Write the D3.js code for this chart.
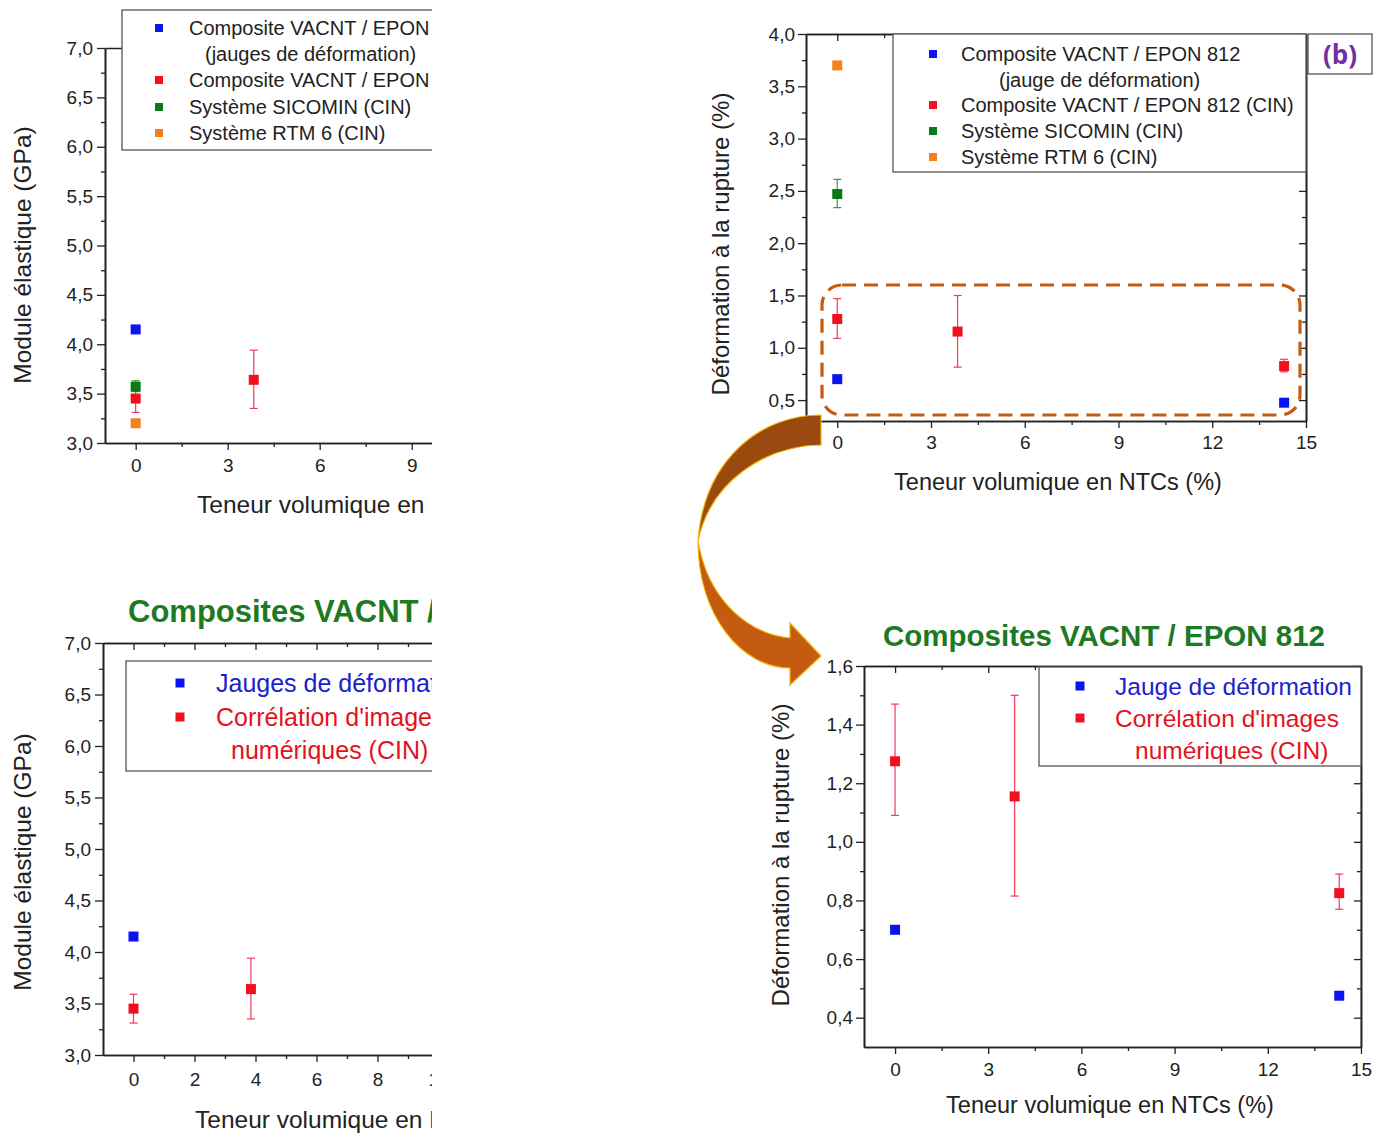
<!DOCTYPE html>
<html><head><meta charset="utf-8">
<script src="https://cdn.jsdelivr.net/npm/d3@7"></script>
<style>
html,body{margin:0;padding:0;background:#fff;}
svg{display:block;font-family:"Liberation Sans",Arial,sans-serif;}
</style></head>
<body><svg id="c" width="1386" height="1135"></svg>
<script>
// ---------------- DATA ----------------
const xTicksStep3 = [0, 3, 6, 9, 12, 15];
const xTicksStep2 = [0, 2, 4, 6, 8, 10, 12, 14];
// Elastic modulus (GPa)
const modGaugeX = [0];
const modGaugeY = [4.15];
const modCinX = [0, 3.85];
const modCinY = [3.45, 3.64];
const modCinLo = [3.31, 3.35];
const modCinHi = [3.59, 3.94];
const modSicominX = [0];
const modSicominY = [3.57];
const modSicominLo = [3.52];
const modSicominHi = [3.63];
const modRtmX = [0];
const modRtmY = [3.20];
// Strain at break (%)
const strGaugeX = [0, 14.3];
const strGaugeY = [0.70, 0.475];
const strCinX = [0, 3.85, 14.3];
const strCinY = [1.275, 1.155, 0.825];
const strCinLo = [1.09, 0.815, 0.77];
const strCinHi = [1.47, 1.50, 0.89];
const strSicominX = [0];
const strSicominY = [2.47];
const strSicominLo = [2.34];
const strSicominHi = [2.61];
const strRtmX = [0];
const strRtmY = [3.70];

const legendTopLeft = ["Composite VACNT / EPON 812", "(jauges de déformation)", "Composite VACNT / EPON 812 (CIN)", "Système SICOMIN (CIN)", "Système RTM 6 (CIN)"];
const legendTopRight = ["Composite VACNT / EPON 812", "(jauge de déformation)", "Composite VACNT / EPON 812 (CIN)", "Système SICOMIN (CIN)", "Système RTM 6 (CIN)"];
const legendBottomLeft = ["Jauges de déformation", "Corrélation d'images", "numériques (CIN)"];
const legendBottomRight = ["Jauge de déformation", "Corrélation d'images", "numériques (CIN)"];
const title = "Composites VACNT / EPON 812";
const xTitle = "Teneur volumique en NTCs (%)";
const yTitleMod = "Module élastique (GPa)";
const yTitleStr = "Déformation à la rupture (%)";

// ---------------- STYLE ----------------
const C = {blue:"#0a14f0", red:"#f01020", green:"#0a7a16", orange:"#f7801e", err:"#f03a5a",
           axis:"#222", txtBlue:"#1a22cc", txtRed:"#e3121c", title:"#1d7a22", brown:"#c55a11"};
const svg = d3.select("#c");
const defs = svg.append("defs");
defs.append("clipPath").attr("id","clipL").append("rect").attr("x",0).attr("y",0).attr("width",432).attr("height",1135);

const fmt1 = d => d3.format(".1f")(d).replace(".", ",");

function panel(cfg){
  const g = svg.append("g").attr("clip-path", cfg.clip ? "url(#"+cfg.clip+")" : null);
  const x = d3.scaleLinear().domain(cfg.xDom).range([cfg.left, cfg.left + cfg.pxPerX*(cfg.xDom[1]-cfg.xDom[0])]);
  const y = d3.scaleLinear().domain(cfg.yDom).range([cfg.bottom, cfg.top]);
  const right = x.range()[1];
  const styleAxis = sel => {
    sel.selectAll("path.domain").attr("stroke", C.axis).attr("stroke-width", 1.6);
    sel.selectAll(".tick line").attr("stroke", C.axis).attr("stroke-width", 1.3);
    sel.selectAll(".tick text").attr("fill", "#222").style("font-size", cfg.tickFont+"px").style("font-family", "Liberation Sans, Arial");
  };
  if (cfg.topAxis){
    g.append("g").attr("transform","translate(0,"+cfg.top+")")
      .call(d3.axisBottom(x).tickValues(cfg.topTicks).tickSize(7).tickSizeOuter(0).tickFormat(""))
      .call(styleAxis);
    if (cfg.topMinor) g.append("g").attr("transform","translate(0,"+cfg.top+")")
      .call(d3.axisBottom(x).tickValues(cfg.topMinor).tickSize(4).tickSizeOuter(0).tickFormat(""))
      .call(styleAxis);
  }
  if (cfg.rightAxis){
    g.append("g").attr("transform","translate("+right+",0)")
      .call(d3.axisLeft(y).tickValues(cfg.yMajor).tickSize(7).tickSizeOuter(0).tickFormat(""))
      .call(styleAxis);
    g.append("g").attr("transform","translate("+right+",0)")
      .call(d3.axisLeft(y).tickValues(cfg.yMinor).tickSize(4).tickSizeOuter(0).tickFormat(""))
      .call(styleAxis);
  }
  g.append("g").attr("transform","translate("+cfg.left+",0)")
    .call(d3.axisLeft(y).tickValues(cfg.yMinor).tickSize(4).tickSizeOuter(0).tickFormat(""))
    .call(styleAxis);
  g.append("g").attr("transform","translate("+cfg.left+",0)")
    .call(d3.axisLeft(y).tickValues(cfg.yMajor).tickSize(8).tickPadding(cfg.yPad).tickSizeOuter(0).tickFormat(fmt1))
    .call(styleAxis);
  g.append("g").attr("transform","translate(0,"+cfg.bottom+")")
    .call(d3.axisBottom(x).tickValues(cfg.xMinor).tickSize(4).tickSizeOuter(0).tickFormat(""))
    .call(styleAxis);
  g.append("g").attr("transform","translate(0,"+cfg.bottom+")")
    .call(d3.axisBottom(x).tickValues(cfg.xMajor).tickSize(7).tickPadding(cfg.xPad).tickSizeOuter(0).tickFormat(d3.format("d")))
    .call(styleAxis);
  g.append("text").attr("x", cfg.xTitleX).attr("y", cfg.xTitleY).attr("text-anchor", cfg.xTitleAnchor || "middle")
    .style("font-size", cfg.xTitleFont+"px").attr("fill","#222").text(xTitle);
  g.append("text").attr("transform","translate("+cfg.yTitleX+","+cfg.yTitleY+") rotate(-90)")
    .attr("text-anchor","middle").style("font-size", cfg.yTitleFont+"px").attr("fill","#222").text(cfg.yTitle);
  return {g, x, y, right};
}

function errorBars(p, xs, lo, hi, color){
  const cap = 4;
  xs.forEach((xv,i)=>{
    const X = p.x(xv);
    p.g.append("line").attr("x1",X).attr("x2",X).attr("y1",p.y(lo[i])).attr("y2",p.y(hi[i])).attr("stroke",color).attr("stroke-width",1.2);
    [lo[i],hi[i]].forEach(v=>p.g.append("line").attr("x1",X-cap).attr("x2",X+cap).attr("y1",p.y(v)).attr("y2",p.y(v)).attr("stroke",color).attr("stroke-width",1.2));
  });
}
function markers(p, xs, ys, color, s){
  s = s || 10;
  p.g.selectAll(null).data(xs.map((xv,i)=>[xv,ys[i]])).enter().append("rect")
    .attr("x", d=>p.x(d[0])-s/2).attr("y", d=>p.y(d[1])-s/2).attr("width", s).attr("height", s).attr("fill", color);
}
function legendBox(g, x0, y0, w, h){
  g.append("rect").attr("x",x0).attr("y",y0).attr("width",w).attr("height",h).attr("fill","#fff").attr("stroke","#555").attr("stroke-width",1.3);
}
function legendItem(g, mx, tx, cy, color, text, font, textColor, size){
  if (color) g.append("rect").attr("x",mx-(size||8)/2).attr("y",cy-(size||8)/2).attr("width",size||8).attr("height",size||8).attr("fill",color);
  g.append("text").attr("x",tx).attr("y",cy).attr("dy","0.35em").style("font-size",font+"px").attr("fill",textColor||"#222").text(text);
}

// ---------------- PANEL A (top-left) ----------------
const pA = panel({clip:"clipL", left:105, top:48, bottom:443, pxPerX:30.67, xDom:[-1,15], yDom:[3,7],
  xMajor:xTicksStep3, xMinor:[1.5,4.5,7.5,10.5,13.5], yMajor:d3.range(3,7.01,0.5), yMinor:d3.range(3.25,7,0.5),
  topAxis:true, topTicks:[], rightAxis:true, tickFont:19, xTitleFont:24.5, yTitleFont:24.5, yPad:4, xPad:9,
  xTitleX:197, xTitleY:513, xTitleAnchor:"start", yTitleX:31, yTitleY:255, yTitle:yTitleMod});
errorBars(pA, modCinX, modCinLo, modCinHi, C.err);
errorBars(pA, modSicominX, modSicominLo, modSicominHi, "#3a9a3a");
markers(pA, modGaugeX, modGaugeY, C.blue);
markers(pA, modRtmX, modRtmY, C.orange);
markers(pA, modCinX, modCinY, C.red);
markers(pA, modSicominX, modSicominY, C.green);
legendBox(pA.g, 122, 10, 420, 140);
[[C.blue,legendTopLeft[0],28,189],[null,legendTopLeft[1],54,205],[C.red,legendTopLeft[2],80,189],[C.green,legendTopLeft[3],107,189],[C.orange,legendTopLeft[4],133,189]]
  .forEach(r=>legendItem(pA.g,159,r[3],r[2],r[0],r[1],20));

// ---------------- PANEL B (top-right) ----------------
const pB = panel({left:806, top:34, bottom:421, pxPerX:31.25, xDom:[-1,15], yDom:[0.3,4.0],
  xMajor:xTicksStep3, xMinor:[1.5,4.5,7.5,10.5,13.5], yMajor:d3.range(0.5,4.01,0.5), yMinor:d3.range(0.75,4,0.5),
  topAxis:true, topTicks:xTicksStep3, topMinor:[1.5,4.5,7.5,10.5,13.5], rightAxis:true, tickFont:19, xTitleFont:23.5, yTitleFont:24, yPad:3, xPad:8,
  xTitleX:1058, xTitleY:490, yTitleX:729, yTitleY:244, yTitle:yTitleStr});
errorBars(pB, strCinX, strCinLo, strCinHi, C.err);
errorBars(pB, strSicominX, strSicominLo, strSicominHi, "#3a9a3a");
markers(pB, strGaugeX, strGaugeY, C.blue);
markers(pB, strCinX, strCinY, C.red);
markers(pB, strSicominX, strSicominY, C.green);
markers(pB, strRtmX, strRtmY, C.orange);
legendBox(pB.g, 893, 34, pB.right-893, 138);
[[C.blue,legendTopRight[0],54,961],[null,legendTopRight[1],80,999],[C.red,legendTopRight[2],105,961],[C.green,legendTopRight[3],131,961],[C.orange,legendTopRight[4],157,961]]
  .forEach(r=>legendItem(pB.g,933,r[3],r[2],r[0],r[1],20));
svg.append("rect").attr("x",1308).attr("y",34).attr("width",64).attr("height",40).attr("fill","#fff").attr("stroke","#555").attr("stroke-width",1.3);
svg.append("text").attr("x",1340).attr("y",55).attr("dy","0.35em").attr("text-anchor","middle")
  .style("font-size","26px").style("font-weight","bold").style("font-family","Open Sans, Liberation Sans").attr("fill","#7030a0").text("(b)");
svg.append("rect").attr("x",822).attr("y",285).attr("width",478).attr("height",130).attr("rx",20).attr("ry",20)
  .attr("fill","none").attr("stroke",C.brown).attr("stroke-width",3.2).attr("stroke-dasharray","14 8");

// ---------------- PANEL C (bottom-left) ----------------
const pC = panel({clip:"clipL", left:103, top:643, bottom:1055, pxPerX:30.5, xDom:[-1,15], yDom:[3,7],
  xMajor:xTicksStep2, xMinor:[1,3,5,7,9,11,13], yMajor:d3.range(3,7.01,0.5), yMinor:d3.range(3.25,7,0.5),
  topAxis:true, topTicks:d3.range(0,15,2), topMinor:d3.range(1,15,2), rightAxis:true, tickFont:19, xTitleFont:24.5, yTitleFont:24.5, yPad:4, xPad:11,
  xTitleX:195, xTitleY:1128, xTitleAnchor:"start", yTitleX:31, yTitleY:862, yTitle:yTitleMod});
errorBars(pC, modCinX, modCinLo, modCinHi, C.err);
markers(pC, modGaugeX, modGaugeY, C.blue);
markers(pC, modCinX, modCinY, C.red);
legendBox(pC.g, 126, 661, 400, 110);
legendItem(pC.g,180,216,683,C.blue,legendBottomLeft[0],25,C.txtBlue,9);
legendItem(pC.g,180,216,717,C.red,legendBottomLeft[1],25,C.txtRed,9);
legendItem(pC.g,180,231,750,null,legendBottomLeft[2],25,C.txtRed,9);
pC.g.append("text").attr("x",128).attr("y",622).style("font-size","31px").style("font-weight","bold").attr("fill",C.title).text(title);

// ---------------- PANEL D (bottom-right) ----------------
const pD = panel({left:864, top:666, bottom:1047, pxPerX:31.06, xDom:[-1,15], yDom:[0.3,1.6],
  xMajor:xTicksStep3, xMinor:[1.5,4.5,7.5,10.5,13.5], yMajor:d3.range(0.4,1.61,0.2), yMinor:d3.range(0.5,1.6,0.2),
  topAxis:true, topTicks:xTicksStep3, topMinor:[1.5,4.5,7.5,10.5,13.5], rightAxis:true, tickFont:19, xTitleFont:23.5, yTitleFont:24, yPad:3, xPad:9,
  xTitleX:1110, xTitleY:1113, yTitleX:789, yTitleY:855, yTitle:yTitleStr});
errorBars(pD, strCinX, strCinLo, strCinHi, C.err);
markers(pD, strGaugeX, strGaugeY, C.blue);
markers(pD, strCinX, strCinY, C.red);
legendBox(pD.g, 1039, 667, pD.right-1039, 99);
legendItem(pD.g,1080,1115,686,C.blue,legendBottomRight[0],24.5,C.txtBlue,9);
legendItem(pD.g,1080,1115,718,C.red,legendBottomRight[1],24.5,C.txtRed,9);
legendItem(pD.g,1080,1135,750,null,legendBottomRight[2],24.5,C.txtRed,9);
svg.append("text").attr("x",1104).attr("y",646).attr("text-anchor","middle").style("font-size","29.5px").style("font-weight","bold").attr("fill",C.title).text(title);

// ---------------- curved arrow ----------------
svg.append("path").attr("d","M821,415 L821,445 C766,446 711,480 698,541 C704,460 760,415 821,415 Z")
  .attr("fill","#9a4a0f").attr("stroke","#f2b400").attr("stroke-width",1.2);
svg.append("path").attr("d","M698,541 C698,616 742,668 790,668 L790,685 L821,656 L790,623 L790,638 C748,634 708,600 698,541 Z")
  .attr("fill","#c55a11").attr("stroke","#f2b400").attr("stroke-width",1.2);
</script></body></html>
